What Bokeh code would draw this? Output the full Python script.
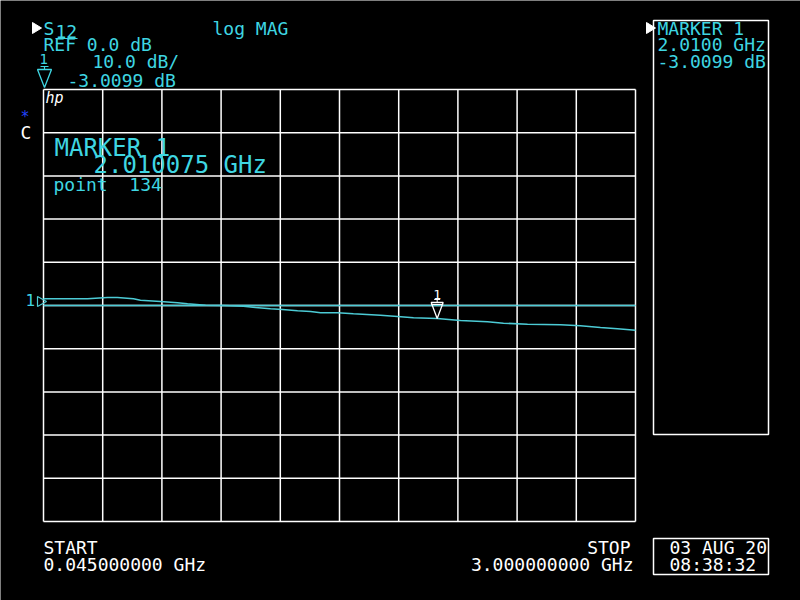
from bokeh.plotting import figure
from bokeh.models import Label, Range1d
from bokeh.embed import file_html
from bokeh.resources import INLINE

# ---------------- data ----------------
F_START, F_STOP = 0.045, 3.0          # GHz
REF_DB, DB_PER_DIV = 0.0, 10.0
N_DIV = 10

freq_ghz = [0.045, 0.265, 0.364, 0.414, 0.494, 0.529, 0.629, 0.714, 0.764, 0.854,
            0.943, 1.043, 1.103, 1.178, 1.238, 1.313, 1.378, 1.428, 1.513, 1.592,
            1.727, 1.812, 1.892, 2.010, 2.126, 2.261, 2.341, 2.461, 2.626, 2.725,
            2.825, 2.910, 3.000]
s12_db = [1.55, 1.55, 1.85, 1.85, 1.55, 1.23, 0.93, 0.63, 0.39, 0.07,
          0.00, -0.16, -0.46, -0.76, -0.93, -1.23, -1.39, -1.69, -1.69, -1.92,
          -2.25, -2.55, -2.85, -3.01, -3.47, -3.77, -4.10, -4.33, -4.47, -4.70,
          -5.09, -5.39, -5.72]

marker_freq = 2.010075
marker_freq_panel = "2.0100"
marker_db = -3.0099
marker_point = 134
date_text = "03 AUG 20"
time_text = "08:38:32"

# ---------------- layout (pixels) ----------------
W, H = 800, 600
PX0, PX1 = 43, 635
PY0, PY1 = 89, 521
DB_TOP = REF_DB + DB_PER_DIV * N_DIV / 2
DB_BOT = REF_DB - DB_PER_DIV * N_DIV / 2
sx = (PX1 - PX0) / (F_STOP - F_START)
sy = (PY1 - PY0) / (DB_TOP - DB_BOT)

def X(px):
    return F_START + (px - PX0) / sx

def Y(py):
    return DB_TOP - (py - PY0) / sy

CYAN = "#3fd6e2"
TRACE = "#4ccbd5"
WHITE = "#ffffff"
FONT = "DejaVu Sans Mono"

p = figure(width=W, height=H, output_backend="svg", toolbar_location=None,
           x_range=Range1d(X(0), X(W)), y_range=Range1d(Y(H), Y(0)),
           min_border=0, background_fill_color="black", border_fill_color="black",
           outline_line_color=None)
p.xaxis.visible = False
p.yaxis.visible = False
p.grid.visible = False

# graticule
step_f = (F_STOP - F_START) / N_DIV
vx = [F_START + i * step_f for i in range(N_DIV + 1)]
hy = [DB_BOT + i * DB_PER_DIV for i in range(N_DIV + 1)]
p.segment(x0=vx, y0=[DB_BOT] * len(vx), x1=vx, y1=[DB_TOP] * len(vx),
          line_color=WHITE, line_width=1.5)
p.segment(x0=[F_START] * len(hy), y0=hy, x1=[F_STOP] * len(hy), y1=hy,
          line_color=WHITE, line_width=1.5)

# reference line
p.line([F_START, F_STOP], [REF_DB, REF_DB], line_color=TRACE, line_width=1.3)
# trace
p.line(freq_ghz, s12_db, line_color=TRACE, line_width=1.6)

# marker on trace
mx, my = marker_freq, marker_db
p.patch([mx, mx - 6 / sx, mx + 6 / sx], [my, my + 16 / sy, my + 16 / sy],
        fill_alpha=0.0, line_color=WHITE, line_width=1.3)
p.line([mx - 6 / sx, mx + 6 / sx], [my + 14 / sy, my + 14 / sy], line_color=WHITE, line_width=1)
p.line([mx, mx], [my + 16 / sy, my + 19 / sy], line_color=WHITE, line_width=1)
p.line([mx - 3 / sx, mx + 3 / sx], [my + 19 / sy, my + 19 / sy], line_color=WHITE, line_width=1)

# reference position marker on the left
p.patch([X(37), X(46), X(37)], [Y(296), Y(301), Y(306)], fill_alpha=0.0,
        line_color=TRACE, line_width=1.2)

# header marker symbol
p.patch([X(37), X(51), X(44)], [Y(69), Y(69), Y(87)], fill_alpha=0.0,
        line_color=CYAN, line_width=1.3)
p.line([X(44), X(44)], [Y(66), Y(69)], line_color=CYAN, line_width=1.2)
p.line([X(40), X(48)], [Y(66), Y(66)], line_color=CYAN, line_width=1.2)

# S12 underline
p.line([X(55), X(77)], [Y(38), Y(38)], line_color=CYAN, line_width=1.2)

# marker panel and date box
p.quad(left=[X(653)], right=[X(768)], top=[Y(20)], bottom=[Y(434)],
       fill_alpha=0.0, line_color=WHITE, line_width=1.5)
p.quad(left=[X(653)], right=[X(768)], top=[Y(538)], bottom=[Y(574)],
       fill_alpha=0.0, line_color=WHITE, line_width=1.5)

# white pointer triangles
p.patch([X(32), X(41), X(32)], [Y(22), Y(27.5), Y(33)], fill_color=WHITE, line_color=WHITE)
p.patch([X(646), X(655), X(646)], [Y(22), Y(27.5), Y(33)], fill_color=WHITE, line_color=WHITE)


def txt(s, px, py, color=CYAN, size=18, align="left", style="normal"):
    # py = desired baseline in pixels; compensate the renderer's baseline offset
    shift = 0.35 * size
    p.add_layout(Label(x=X(px), y=Y(py - shift), text=s, text_color=color, text_font=FONT,
                       text_font_size=f"{size}px", text_align=align,
                       text_baseline="alphabetic", text_font_style=style))

NB = "\u00a0"
txt("S", 43, 34)
txt("12", 55, 37.5)
txt("log" + NB + "MAG", 212, 34)
txt(f"REF{NB}{REF_DB:.1f}{NB}dB", 43, 50)
txt("1", 39, 63, size=14)
txt(f"{DB_PER_DIV:.1f}{NB}dB/", 92, 67)
txt(f"{marker_db:.4f}{NB}dB", 67, 86)

txt("MARKER" + NB + "1", 657, 34)
txt(f"{marker_freq_panel}{NB}GHz", 657, 50.5)
txt(f"{marker_db:.4f}{NB}dB", 657, 67.5)

txt("MARKER" + NB + "1", 54, 156, size=24)
txt(f"{marker_freq:.6f}{NB}GHz", 93, 173, size=24)
txt(f"point{NB}{NB}{marker_point}", 53, 190)

txt("hp", 45, 103, color=WHITE, size=15, style="italic")
txt("C", 20, 138, color=WHITE)
txt("*", 20, 122, color="#2244ff", size=15)
txt("1", 25, 305, color=CYAN, size=16)

# marker number above the marker on the trace (baseline 19 px above the tip)
p.add_layout(Label(x=mx, y=my + (19 + 0.35 * 13) / sy, text="1", text_color=WHITE,
                   text_font=FONT, text_font_size="13px", text_align="center",
                   text_baseline="alphabetic"))

txt("START", 43, 553, color=WHITE)
txt(f"{F_START:.9f}{NB}GHz", 43, 570, color=WHITE)
txt("STOP", 630, 553, color=WHITE, align="right")
txt(f"{F_STOP:.9f}{NB}GHz", 633, 570, color=WHITE, align="right")
txt(date_text.replace(" ", NB), 669, 553, color=WHITE)
txt(time_text, 669, 570, color=WHITE)

open("out.html", "w").write(file_html(p, INLINE))
